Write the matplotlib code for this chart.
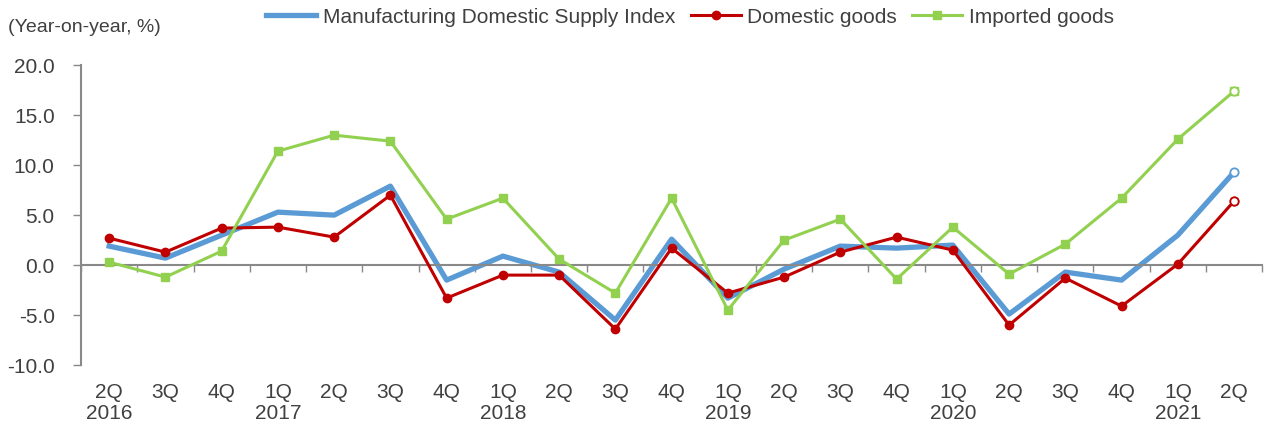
import matplotlib
matplotlib.use("Agg")
import matplotlib.pyplot as plt
import numpy as np
from matplotlib.lines import Line2D

plt.rcParams['font.family'] = ['Liberation Sans', 'DejaVu Sans']

categories = ["2Q\n2016", "3Q", "4Q", "1Q\n2017", "2Q", "3Q", "4Q", "1Q\n2018", "2Q", "3Q",
              "4Q", "1Q\n2019", "2Q", "3Q", "4Q", "1Q\n2020", "2Q", "3Q", "4Q", "1Q\n2021", "2Q"]
supply_index = [1.9, 0.7, 3.0, 5.3, 5.0, 7.9, -1.5, 0.9, -0.7, -5.5, 2.6, -3.3, -0.4, 1.9, 1.7,
                2.0, -4.9, -0.7, -1.5, 3.0, 9.3]
domestic = [2.7, 1.3, 3.7, 3.8, 2.8, 7.0, -3.3, -1.0, -1.0, -6.4, 1.7, -2.8, -1.2, 1.3, 2.8,
            1.5, -6.0, -1.3, -4.1, 0.1, 6.4]
imported = [0.3, -1.2, 1.4, 11.4, 13.0, 12.4, 4.6, 6.7, 0.6, -2.8, 6.7, -4.5, 2.5, 4.6, -1.4,
            3.8, -0.9, 2.1, 6.7, 12.6, 17.4]
y_ticks = [20.0, 15.0, 10.0, 5.0, 0.0, -5.0, -10.0]

BLUE = "#5B9BD5"
RED = "#C00000"
GREEN = "#92D050"
TXT = "#404040"
AX = "#898989"
FS = 15

fig = plt.figure(figsize=(12.66, 4.26), dpi=100)
ax = fig.add_axes([0.064, 0.143, 0.933, 0.704])

x = np.arange(len(categories))
ax.plot(x, supply_index, color=BLUE, lw=3.8, zorder=2)
ax.plot(x, domestic, color=RED, lw=2.2, marker='o', ms=6, zorder=3)
ax.plot(x, imported, color=GREEN, lw=2.2, marker='s', ms=5.5, zorder=3)
# hollow final markers
ax.plot(x[-1:], supply_index[-1:], ls='none', marker='o', ms=6, mfc='white', mec=BLUE, mew=1.3, zorder=4)
ax.plot(x[-1:], domestic[-1:], ls='none', marker='o', ms=6, mfc='white', mec=RED, mew=1.3, zorder=4)
ax.plot(x[-1:], imported[-1:], ls='none', marker='o', ms=6, mfc='white', mec=GREEN, mew=1.3, zorder=4)

ax.set_xlim(-0.5, len(categories) - 0.5)
ax.set_ylim(-10, 20)
ax.set_yticks(y_ticks)
ax.set_yticklabels([f"{v:.1f}" for v in y_ticks])
ax.tick_params(axis='y', length=6, width=1, color=AX, labelsize=FS, labelcolor=TXT, pad=13)

ax.spines['top'].set_visible(False)
ax.spines['right'].set_visible(False)
ax.spines['left'].set_color(AX)
ax.spines['left'].set_linewidth(1.5)
ax.spines['bottom'].set_position(('data', 0))
ax.spines['bottom'].set_color(AX)
ax.spines['bottom'].set_linewidth(1.5)

ax.set_xticks(x)
ax.set_xticklabels(categories)
ax.set_xticks(np.arange(len(categories) + 1) - 0.5, minor=True)
ax.tick_params(axis='x', which='major', length=0, labelsize=FS, labelcolor=TXT, pad=85)
ax.tick_params(axis='x', which='minor', length=5, width=1, color=AX)
for lab in ax.get_xticklabels():
    lab.set_linespacing(1.1)

fig.text(0.006, 0.935, "(Year-on-year, %)", fontsize=14, color=TXT, ha='left', va='center')

handles = [Line2D([], [], color=BLUE, lw=3.8),
           Line2D([], [], color=RED, lw=2.2, marker='o', ms=6),
           Line2D([], [], color=GREEN, lw=2.2, marker='s', ms=5.5)]
labels = ["Manufacturing Domestic Supply Index", "Domestic goods", "Imported goods"]
fig.legend(handles, labels, loc='center', bbox_to_anchor=(0.545, 0.96), ncol=3, frameon=False,
           fontsize=FS, labelcolor=TXT, handlelength=2.4, handletextpad=0.3, columnspacing=0.75)

fig.savefig("out.png", dpi=100)
